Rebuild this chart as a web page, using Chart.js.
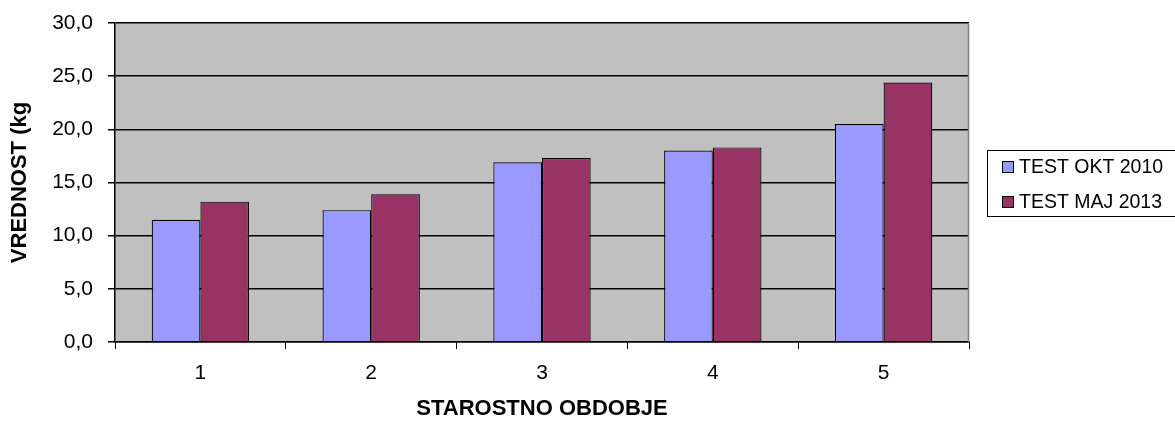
<!DOCTYPE html>
<html><head><meta charset="utf-8">
<script src="https://cdn.jsdelivr.net/npm/chart.js@4.4.0/dist/chart.umd.min.js"></script>
<style>html,body{margin:0;padding:0;background:#fff;}#wrap{width:1175px;height:422px;}</style>
</head><body><div id="wrap"><canvas id="c" width="1175" height="422"></canvas></div>
<script>
const categories = ['1','2','3','4','5'];
const seriesNames = ['TEST OKT 2010','TEST MAJ 2013'];
const okt2010 = [11.5, 12.4, 16.9, 18.0, 20.5];
const maj2013 = [13.2, 13.9, 17.3, 18.3, 24.4];
const yTicks = [0,5,10,15,20,25,30];
const FONT = 'Liberation Sans, Arial, sans-serif';

const plotBg = {
  id:'plotBg',
  beforeDraw(chart){
    const {ctx, chartArea:a} = chart;
    ctx.save(); ctx.fillStyle='#C0C0C0';
    ctx.fillRect(a.left,a.top,a.right-a.left,a.bottom-a.top);
    ctx.restore();
  },
  afterDatasetsDraw(chart){
    const {ctx, chartArea:a} = chart;
    ctx.save();
    ctx.strokeStyle='#808080'; ctx.lineWidth=1.5;
    ctx.beginPath();
    ctx.moveTo(a.right-0.5,a.top); ctx.lineTo(a.right-0.5,a.bottom);
    ctx.stroke();
    // legend
    const x0=987, y0=150, w=200, h=66;
    ctx.fillStyle='#fff'; ctx.fillRect(x0,y0,w,h);
    ctx.strokeStyle='#000'; ctx.lineWidth=1; ctx.strokeRect(x0+0.5,y0+0.5,w,h);
    ctx.font='19.5px '+FONT; ctx.textBaseline='middle'; ctx.textAlign='left';
    const ys=[167,202];
    chart.data.datasets.forEach((ds,i)=>{
      ctx.fillStyle=ds.backgroundColor; ctx.fillRect(1002,ys[i]-6,11,11);
      ctx.strokeStyle='#000'; ctx.strokeRect(1002.5,ys[i]-5.5,11,11);
      ctx.fillStyle='#000'; ctx.fillText(ds.label,1019,ys[i]+1);
    });
    ctx.restore();
  }
};

new Chart(document.getElementById('c'),{
  type:'bar',
  data:{labels:categories,datasets:[
    {label:seriesNames[0],data:okt2010,backgroundColor:'#9999FF',borderColor:'#000',borderWidth:1.2},
    {label:seriesNames[1],data:maj2013,backgroundColor:'#993366',borderColor:'#000',borderWidth:1.2}
  ]},
  options:{
    responsive:false,animation:false,
    devicePixelRatio:1,
    layout:{padding:{left:0,right:206,top:23,bottom:0}},
    plugins:{legend:{display:false},tooltip:{enabled:false}},
    datasets:{bar:{categoryPercentage:0.57,barPercentage:1}},
    scales:{
      x:{
        grid:{drawOnChartArea:false,drawTicks:true,tickLength:7,color:'#000',offset:true},
        border:{color:'#000',width:1.5},
        ticks:{color:'#000',font:{family:FONT,size:21},padding:12},
        title:{display:true,text:'STAROSTNO OBDOBJE',color:'#000',font:{family:FONT,size:22,weight:'bold'},padding:{top:10,bottom:0}},
        afterFit(s){s.height=80;s.paddingLeft=0;s.paddingRight=0;}
      },
      y:{
        min:0,max:30,
        afterBuildTicks(s){s.ticks=yTicks.map(v=>({value:v}));},
        grid:{color:'#000',lineWidth:1.5,tickLength:7,drawTicks:true},
        border:{color:'#000',width:1.5},
        ticks:{color:'#000',font:{family:FONT,size:21},padding:15,
          callback:v=>v.toFixed(1).replace('.',',')},
        title:{display:true,text:'VREDNOST (kg',color:'#000',font:{family:FONT,size:22,weight:'bold'},padding:{top:7,bottom:0}},
        afterFit(s){s.width=115;s.paddingTop=0;s.paddingBottom=0;}
      }
    }
  },
  plugins:[plotBg]
});
</script></body></html>
